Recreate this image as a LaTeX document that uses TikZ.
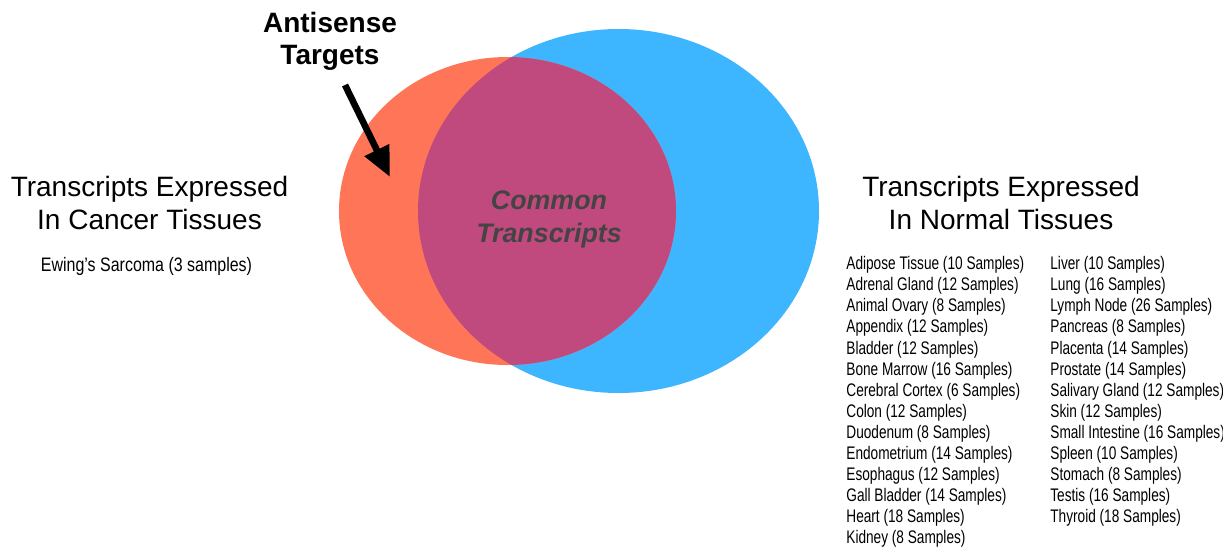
\documentclass[tikz,border=0pt]{standalone}
\usepackage{fontspec}
\setmainfont{Liberation Sans}
\newfontfamily\listfont[FakeStretch=0.75]{Liberation Sans}
\newfontfamily\ewingfont[FakeStretch=0.82]{Liberation Sans}
\usepackage{tikz}
\usetikzlibrary{arrows.meta}
\definecolor{cancerred}{RGB}{255,117,88}
\definecolor{normalblue}{RGB}{62,182,255}
\definecolor{commonpurple}{RGB}{192,74,126}
\definecolor{commongray}{RGB}{68,68,68}

\begin{document}
\begin{tikzpicture}[x=0.5pt, y=-0.5pt, % one unit is one pixel, y down
	> = {Triangle[length=15pt, width=13pt]}, % arrow head style
	every node/.style={inner sep=0pt},
	title/.style={font=\fontsize{14}{16.5}\selectfont, align=center},
	callout/.style={font=\bfseries\fontsize{14}{16}\selectfont, align=center},
	common/.style={font=\bfseries\itshape\fontsize{13.4}{16.5}\selectfont, align=center, text=commongray},
	tissue/.style={font=\listfont\fontsize{9.1}{10}\selectfont, anchor=west}]
	\useasboundingbox (0,0) rectangle (1223,548);

	% the two sets
	\fill[normalblue] (618.5,211) ellipse [x radius=100.25pt, y radius=91pt];
	\fill[cancerred] (507.5,211) ellipse [x radius=84.25pt, y radius=77pt];
	\begin{scope}
		\clip (618.5,211) ellipse [x radius=100.25pt, y radius=91pt];
		\fill[commonpurple] (507.5,211) ellipse [x radius=84.25pt, y radius=77pt];
	\end{scope}

	\node[common] (common) at (549,219) {Common\\Transcripts};

	\node[callout] (antisense) at (330,41) {Antisense\\Targets};
	\coordinate (arrowtail) at (345,85);
	\coordinate (arrowtip) at (390,177);
	\draw [->, line width=3.3pt] (arrowtail) -- (arrowtip);

	\node[title] (cancer) at (149.5,203) {Transcripts Expressed\\In Cancer Tissues};
	\node[font=\ewingfont\fontsize{9.75}{11}\selectfont] (ewing) at (146.5,266) {Ewing’s Sarcoma (3 samples)};

	\node[title] (normal) at (1001,203) {Transcripts Expressed\\In Normal Tissues};

	% normal tissues, two columns
	\foreach \name [count=\i from 0] in {Adipose Tissue (10 Samples), Adrenal Gland (12 Samples),
		Animal Ovary (8 Samples), Appendix (12 Samples), Bladder (12 Samples),
		Bone Marrow (16 Samples), Cerebral Cortex (6 Samples), Colon (12 Samples),
		Duodenum (8 Samples), Endometrium (14 Samples), Esophagus (12 Samples),
		Gall Bladder (14 Samples), Heart (18 Samples), Kidney (8 Samples)}
		\node[tissue] (left\i) at (846,265+21.08*\i) {\name};
	\foreach \name [count=\i from 0] in {Liver (10 Samples), Lung (16 Samples),
		Lymph Node (26 Samples), Pancreas (8 Samples), Placenta (14 Samples),
		Prostate (14 Samples), Salivary Gland (12 Samples), Skin (12 Samples),
		Small Intestine (16 Samples), Spleen (10 Samples), Stomach (8 Samples),
		Testis (16 Samples), Thyroid (18 Samples)}
		\node[tissue] (right\i) at (1050,265+21.08*\i) {\name};
\end{tikzpicture}
\end{document}
